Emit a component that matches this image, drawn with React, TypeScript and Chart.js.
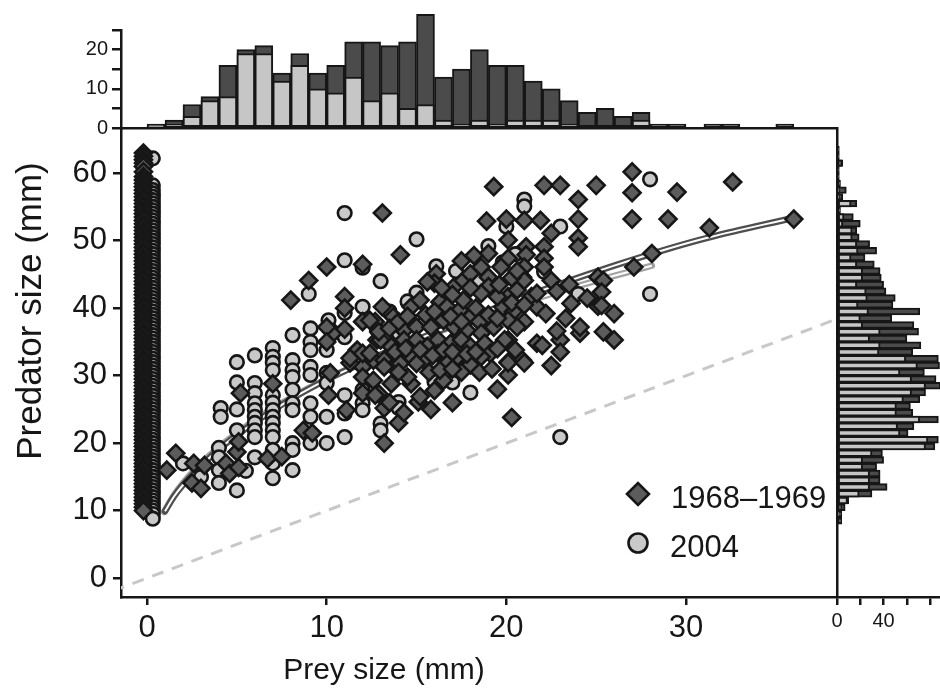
import React, { useEffect, useRef } from 'react';
import { Chart, registerables } from 'chart.js';

Chart.register(...registerables);

const FONT = '"Liberation Sans", Arial, Helvetica, sans-serif';
const INK = '#161616';
const OLD_FILL = '#5c5c5c';
const NEW_FILL = '#c9c9c9';
const HIST_DARK = '#4b4b4b';
const HIST_LIGHT = '#c6c6c6';

// ---------------- data ----------------
const seriesNames = ['1968–1969', '2004'];
const xTitle = 'Prey size (mm)';
const yTitle = 'Predator size (mm)';

const preyTicks = [0, 10, 20, 30];
const predatorTicks = [0, 10, 20, 30, 40, 50, 60];
const preyCountTicks = [0, 5, 10, 15, 20, 25];
const predatorCountTicks = [0, 20, 40, 60, 80];

// predators with no prey in gut (plotted at prey size ~0)
const noPreyOldX = -0.2;
const noPreyOldY = [63, 62.5, 62, 61.5, 61, 60.2, 59.5, 59, 58.5, 58, 57.5, 57, 56.5, 56, 55.5, 55, 54.5, 54, 53.5, 53, 52.5, 52, 51.5, 51, 50.5, 50, 49.5, 49, 48.5, 48, 47.5, 47, 46.5, 46, 45.5, 45, 44.5, 44, 43.5, 43, 42.5, 42, 41.5, 41, 40.5, 40, 39.5, 39, 38.5, 38, 37.5, 37, 36.5, 36, 35.5, 35, 34.5, 34, 33.5, 33, 32.5, 32, 31.5, 31, 30.5, 30, 29.5, 29, 28.5, 28, 27.5, 27, 26.5, 26, 25.5, 25, 24.5, 24, 23.5, 23, 22.5, 22, 21.5, 21, 20.5, 20, 19.5, 19, 18.5, 18, 17.5, 17, 16.5, 16, 15.5, 15, 14.5, 14, 13.5, 13, 12.5, 12, 11.5, 11, 10.5, 10];
const noPreyNewX = 0.32;
const noPreyNewY = [62.2, 58.2, 57.5, 57, 56.5, 56, 55.5, 55, 54.5, 54, 53.5, 53, 52.5, 52, 51.5, 51, 50.5, 50, 49.5, 49, 48.5, 48, 47.5, 47, 46.5, 46, 45.5, 45, 44.5, 44, 43.5, 43, 42.5, 42, 41.5, 41, 40.5, 40, 39.5, 39, 38.5, 38, 37.5, 37, 36.5, 36, 35.5, 35, 34.5, 34, 33.5, 33, 32.5, 32, 31.5, 31, 30.5, 30, 29.5, 29, 28.5, 28, 27.5, 27, 26.5, 26, 25.5, 25, 24.5, 24, 23.5, 23, 22.5, 22, 21.5, 21, 20.5, 20, 19.5, 19, 18.5, 18, 17.5, 17, 16.5, 16, 15.5, 15, 14.5, 14, 13.5, 13, 12.5, 12, 11.5, 11, 10.5, 10, 9.5, 8.8];

// 1968–1969 (prey size, predator size)
const oldPairs: number[][] = [
  [1.1, 16.0], [1.6, 18.5], [2.6, 17.0], [3.2, 16.7], [2.5, 14.1], [3.0, 13.3], [4.4, 17.0], [4.6, 15.5], [5.1, 16.4], [5.0, 18.7], [5.1, 20.2], [6.7, 17.7], [7.5, 18.0],
  [7.0, 28.8], [5.2, 27.4], [8.7, 21.9], [9.2, 21.5], [10.2, 30.4], [10.1, 27.1], [11.1, 24.9], [12.0, 31.3], [12.0, 29.8], [12.0, 27.4], [11.3, 31.9], [12.6, 29.3], [12.9, 27.3],
  [8.0, 41.2], [9.0, 44.1], [10.0, 46.1], [12.0, 46.5], [11.0, 41.7], [11.0, 40.0], [12.0, 38.0], [12.7, 38.0], [10.4, 36.4], [10.0, 37.2], [11.0, 36.9], [10.0, 35.0], [11.7, 33.8], [11.3, 32.6], [12.0, 33.3], [12.6, 32.3], [12.8, 35.3],
  [13.1, 54.1], [19.3, 58.0], [22.1, 58.2], [23.0, 58.2], [25.0, 58.2], [24.0, 56.1], [18.9, 52.9], [20.0, 53.2], [21.0, 53.0], [21.9, 53.0], [24.0, 53.2], [22.5, 51.1], [24.0, 50.4], [24.0, 49.1], [20.1, 50.1], [14.1, 47.9], [19.0, 48.1], [21.1, 49.1], [21.1, 47.9], [22.1, 49.1], [22.1, 47.4], [22.1, 46.1], [20.1, 47.4], [19.7, 46.1], [16.1, 45.1], [21.0, 46.1], [20.9, 44.6], [22.5, 44.1], [25.1, 44.6], [25.4, 44.1], [23.6, 40.7], [25.1, 40.3], [26.0, 39.2], [21.4, 41.7], [21.7, 40.2], [22.2, 39.2], [21.0, 38.0], [21.7, 34.8], [23.0, 35.3], [24.1, 36.3], [24.1, 37.2], [25.4, 36.5], [26.0, 35.3], [20.1, 32.0], [20.9, 32.3], [20.1, 35.3], [19.1, 33.8],
  [27.0, 60.2], [27.0, 57.1], [29.5, 57.2], [32.6, 58.7], [27.0, 53.2], [29.0, 53.2], [31.3, 51.9], [36.0, 53.2], [28.1, 48.1], [27.1, 46.1], [25.3, 42.4], [25.3, 40.4],
  [13.1, 40.2], [12.4, 38.2], [13.7, 38.7], [14.7, 40.2], [15.2, 41.2], [16.3, 40.9], [16.7, 40.2], [17.4, 39.7], [18.0, 38.7], [18.5, 38.0], [19.8, 40.2], [20.4, 39.5],
  [14.3, 36.7], [15.0, 37.2], [15.8, 37.2], [16.5, 38.2], [17.1, 37.2], [17.8, 36.7], [18.6, 36.3], [19.3, 37.2], [20.1, 38.2], [20.6, 37.2],
  [13.0, 35.3], [13.6, 34.3], [14.3, 35.3], [15.0, 35.3], [15.6, 34.3], [16.2, 35.3], [16.9, 34.8], [17.5, 35.3], [18.0, 34.3], [18.8, 34.8], [19.1, 33.3], [19.9, 35.3],
  [12.4, 33.3], [13.2, 32.3], [13.9, 31.8], [14.7, 32.8], [15.4, 32.3], [16.2, 33.3], [16.7, 31.8], [17.3, 32.8], [18.0, 31.8], [18.6, 32.8],
  [16.0, 43.7], [15.6, 43.9], [17.1, 43.2], [17.6, 44.1], [18.0, 45.1], [18.6, 46.1], [19.0, 44.6], [19.0, 43.2], [20.1, 41.7], [20.6, 42.7], [21.0, 44.1], [21.7, 42.2], [17.6, 41.2], [18.6, 42.2], [19.5, 41.7],
  [13.2, 20.0], [17.0, 26.0], [19.5, 28.0], [20.1, 30.1], [20.3, 23.8], [15.1, 26.1], [14.0, 23.0], [13.2, 25.2], [12.7, 27.1], [16.5, 29.3], [18.0, 31.6], [20.1, 31.9], [21.0, 31.9], [13.2, 31.3], [14.1, 31.8], [15.0, 31.8], [14.7, 28.8], [15.2, 26.9], [13.6, 28.8],
  [22.0, 34.5], [22.8, 36.6], [23.3, 38.5], [16.0, 27.8], [17.5, 30.5], [14.5, 29.8],
  [12.9, 36.5], [13.5, 37.0], [14.0, 38.0], [14.5, 38.8], [15.5, 39.0], [16.0, 39.5], [16.9, 38.8], [17.5, 38.0], [18.3, 40.0], [19.0, 39.0], [19.5, 38.5], [20.3, 40.8], [21.0, 40.5],
  [13.8, 33.5], [14.4, 34.0], [15.2, 33.8], [15.9, 33.0], [16.5, 33.8], [17.0, 33.5], [17.8, 33.2], [18.3, 33.5], [19.5, 34.0], [20.5, 33.8],
  [14.0, 30.5], [15.7, 30.5], [16.3, 30.8], [17.0, 31.0], [18.5, 30.5], [19.2, 31.0], [13.5, 26.0], [14.3, 24.5], [15.8, 25.0],
  [16.4, 43.0], [17.0, 42.0], [18.0, 43.0], [19.6, 43.5], [20.3, 44.5], [17.5, 47.0], [18.2, 47.8], [20.6, 45.5], [22.8, 42.5], [23.5, 43.5], [24.5, 41.5], [23.0, 33.5], [22.5, 31.5]
];

// 2004 (prey size, predator size)
const newPairs: number[][] = [
  [11.0, 54.1], [11.0, 47.1], [12.0, 46.0], [9.0, 42.1], [11.0, 39.3], [12.0, 40.2], [10.1, 38.2], [9.1, 37.0], [11.0, 35.7], [8.1, 36.0], [9.1, 35.0], [10.0, 33.8], [9.1, 33.8], [7.0, 34.1], [6.0, 33.0], [5.0, 32.0], [7.0, 32.8], [8.1, 32.3],
  [7.0, 31.9], [7.0, 30.8], [7.0, 27.1], [7.0, 26.0], [7.0, 24.9], [7.0, 23.9], [7.0, 23.0], [7.0, 21.9], [7.0, 20.9], [7.0, 19.0], [7.0, 17.0], [7.0, 14.8],
  [8.1, 30.8], [8.1, 29.8], [8.1, 27.9], [8.1, 25.9], [8.1, 24.9], [8.1, 20.0], [8.1, 19.0], [8.1, 16.0],
  [9.1, 31.3], [9.1, 30.1], [9.1, 25.9], [9.1, 23.9], [9.1, 20.0],
  [10.0, 30.4], [10.0, 28.9], [10.0, 23.9], [10.0, 20.0],
  [11.0, 27.1], [11.0, 24.4], [11.0, 20.9],
  [12.0, 27.9], [12.0, 25.9], [12.0, 24.9],
  [6.0, 28.9], [6.0, 27.4], [6.0, 25.9], [6.0, 24.9], [6.0, 23.9], [6.0, 23.0], [6.0, 21.9], [6.0, 20.9], [6.0, 17.9],
  [4.1, 25.2], [4.1, 23.9], [5.0, 25.0], [5.0, 29.0], [5.0, 21.9], [5.0, 13.0],
  [4.0, 19.3], [4.0, 17.9], [4.0, 16.0], [4.0, 14.1], [2.0, 17.0], [3.0, 15.0], [5.5, 15.9],
  [13.0, 22.9], [13.0, 21.9], [14.0, 26.1], [14.0, 25.2], [16.0, 31.1], [16.0, 29.1],
  [23.0, 20.9],
  [15.0, 50.2], [19.0, 49.2], [16.1, 46.2], [15.0, 42.3], [24.0, 42.1], [21.0, 56.1], [21.0, 55.1], [20.0, 52.1], [23.0, 52.1], [22.1, 45.4], [14.0, 36.3], [16.1, 31.3],
  [28.0, 59.1], [28.0, 42.1],
  [12.8, 36.8], [13.5, 39.5],
  [14.5, 41.0], [17.2, 45.5], [18.5, 44.0], [19.8, 46.8], [20.5, 48.0], [13.0, 44.0], [15.5, 38.2], [17.0, 29.0], [18.0, 27.5]
];

// fitted curves
const fitOldX = [1.0, 1.5, 2, 3, 4, 5, 6, 8, 10, 12, 14, 16, 18, 20, 23, 26, 29, 31.3, 36];
const fitOldY = [9.9, 12.1, 13.8, 16.6, 19.1, 21.2, 23.1, 26.5, 29.4, 31.9, 34.2, 36.4, 38.5, 40.7, 43.6, 46.3, 48.8, 50.5, 53.4];
const fitNewX = [0.95, 1.5, 2, 3, 4, 5, 6, 8, 10, 12, 14, 16, 18, 20, 22, 24, 26, 28.1];
const fitNewY = [9.8, 12.3, 14.1, 17.0, 19.4, 21.5, 23.4, 26.7, 29.5, 32.0, 34.2, 36.3, 38.2, 40.0, 41.7, 43.3, 44.8, 46.3];
// 1:1 reference line
const unityX = [-3, 40];
const unityY = [-3, 40];

// prey size histogram (1 mm bins)
const preyBinCentres = [0.5, 1.5, 2.5, 3.5, 4.5, 5.5, 6.5, 7.5, 8.5, 9.5, 10.5, 11.5, 12.5, 13.5, 14.5, 15.5, 16.5, 17.5, 18.5, 19.5, 20.5, 21.5, 22.5, 23.5, 24.5, 25.5, 26.5, 27.5, 28.5, 29.5, 30.5, 31.5, 32.5, 33.5, 34.5, 35.5];
const preyCountOld = [1, 2, 6, 8, 16, 20, 21, 14, 19, 14, 16, 22, 22, 21, 22, 29, 13, 15, 20, 16, 16, 12, 10, 7, 4, 5, 3, 4, 1, 1, 0, 1, 1, 0, 0, 1];
const preyCountNew = [0.5, 1, 3, 7, 8, 19, 19, 12, 16, 10, 9, 13, 7, 9, 5, 6, 2, 1, 2, 1, 2, 2, 2, 1, 0, 0, 0, 2, 0, 0, 0, 0, 0, 0, 0, 0];

// predator size histogram (1 mm bins)
const predBinCentres = [8.5, 9.5, 10.5, 11.5, 12.5, 13.5, 14.5, 15.5, 16.5, 17.5, 18.5, 19.5, 20.5, 21.5, 22.5, 23.5, 24.5, 25.5, 26.5, 27.5, 28.5, 29.5, 30.5, 31.5, 32.5, 33.5, 34.5, 35.5, 36.5, 37.5, 38.5, 39.5, 40.5, 41.5, 42.5, 43.5, 44.5, 45.5, 46.5, 47.5, 48.5, 49.5, 50.5, 51.5, 52.5, 53.5, 54.5, 55.5, 56.5, 57.5, 58.5, 59.5, 60.5, 61.5, 62.5, 63.5];
const predCountOld = [4, 4, 7, 10, 30, 43, 37, 37, 34, 40, 39, 84, 87, 61, 66, 87, 65, 63, 71, 76, 89, 85, 75, 88, 87, 65, 72, 60, 70, 66, 47, 71, 48, 50, 42, 40, 38, 37, 32, 24, 34, 28, 19, 17, 20, 14, 3, 17, 5, 8, 3, 2, 2, 5, 2, 2];
const predCountNew = [0, 2, 4, 9, 19, 28, 28, 28, 22, 22, 30, 76, 78, 54, 52, 71, 51, 51, 57, 64, 76, 64, 54, 69, 59, 36, 37, 28, 37, 22, 20, 27, 18, 26, 25, 17, 22, 22, 17, 12, 18, 17, 13, 13, 5, 6, 0, 12, 2, 2, 0, 0, 0, 4, 0, 0];

// ---------------- layout (pixels) ----------------
const W = 940;
const H = 696;
const PLOT_LEFT = 121;
const PLOT_RIGHT = 836;
const PLOT_TOP = 128;
const PLOT_BOTTOM = 597;
const TOPHIST_TOP = 30;

const X_MIN = -1.45;
const X_MAX = 38.35;
const Y_MIN = -2.8;
const Y_MAX = 66.7;

const toXY = (xs: number[], ys: number[]) => xs.map((x, i) => ({ x, y: ys[i] }));
const pairs = (p: number[][]) => p.map(([x, y]) => ({ x, y }));

const tickGrid = { display: true, drawOnChartArea: false, drawTicks: true, tickLength: 8, color: INK, lineWidth: 2.5 };
const axisBorder = { display: true, color: INK, width: 2.5 };

const annotatePlugin = {
  id: 'annotate',
  afterDraw(chart: any) {
    const ctx = chart.ctx;
    ctx.save();
    ctx.fillStyle = INK;
    // axis titles
    ctx.textAlign = 'center';
    ctx.textBaseline = 'middle';
    ctx.font = `30px ${FONT}`;
    ctx.fillText(xTitle, 384, 671);
    ctx.save();
    ctx.translate(31, 311);
    ctx.rotate(-Math.PI / 2);
    ctx.font = `35px ${FONT}`;
    ctx.fillText(yTitle, 0, 0);
    ctx.restore();
    // legend
    const lx = 638;
    const ly1 = 494;
    const ly2 = 543;
    ctx.lineWidth = 2.6;
    ctx.strokeStyle = INK;
    ctx.beginPath();
    ctx.moveTo(lx - 11, ly1);
    ctx.lineTo(lx, ly1 - 11);
    ctx.lineTo(lx + 11, ly1);
    ctx.lineTo(lx, ly1 + 11);
    ctx.closePath();
    ctx.fillStyle = OLD_FILL;
    ctx.fill();
    ctx.stroke();
    ctx.beginPath();
    ctx.arc(lx, ly2, 9.5, 0, Math.PI * 2);
    ctx.fillStyle = NEW_FILL;
    ctx.fill();
    ctx.stroke();
    ctx.fillStyle = INK;
    ctx.font = `31px ${FONT}`;
    ctx.textAlign = 'left';
    ctx.textBaseline = 'alphabetic';
    ctx.fillText(seriesNames[0], 671, 508);
    ctx.fillText(seriesNames[1], 670, 557);
    ctx.restore();
  },
};

function mainConfig(): any {
  const oldPts = [...noPreyOldY.map((y) => ({ x: noPreyOldX, y })), ...pairs(oldPairs)];
  const newPts = [...noPreyNewY.map((y) => ({ x: noPreyNewX, y })), ...pairs(newPairs)];
  const lineBase = { showLine: true, pointRadius: 0, cubicInterpolationMode: 'monotone', fill: false };
  return {
    type: 'scatter',
    data: {
      datasets: [
        { label: seriesNames[0], data: oldPts, pointStyle: 'rectRot', pointRadius: 8.5, pointBackgroundColor: OLD_FILL, pointBorderColor: INK, pointBorderWidth: 2.6, order: 1 },
        { label: seriesNames[1], data: newPts, pointStyle: 'circle', pointRadius: 6.8, pointBackgroundColor: NEW_FILL, pointBorderColor: INK, pointBorderWidth: 2.6, order: 2 },
        { ...lineBase, data: toXY(fitOldX, fitOldY), borderColor: '#ffffff', borderWidth: 2, borderCapStyle: 'butt', order: 3 },
        { ...lineBase, data: toXY(fitOldX, fitOldY), borderColor: '#4e4e4e', borderWidth: 6.5, borderCapStyle: 'round', order: 4 },
        { ...lineBase, data: toXY(fitNewX, fitNewY), borderColor: '#ffffff', borderWidth: 2, borderCapStyle: 'butt', order: 5 },
        { ...lineBase, data: toXY(fitNewX, fitNewY), borderColor: '#a2a2a2', borderWidth: 6.5, borderCapStyle: 'round', order: 6 },
        { ...lineBase, data: toXY(unityX, unityY), cubicInterpolationMode: 'default', borderColor: '#c8c8c8', borderWidth: 3, borderDash: [12, 9], order: 7 },
      ],
    },
    options: {
      responsive: false,
      animation: false,
      events: [],
      layout: { padding: { top: PLOT_TOP, right: W - PLOT_RIGHT, bottom: 0, left: 0 } },
      scales: {
        x: {
          type: 'linear',
          min: X_MIN,
          max: X_MAX,
          afterFit: (s: any) => { s.height = H - PLOT_BOTTOM; },
          afterBuildTicks: (s: any) => { s.ticks = preyTicks.map((value) => ({ value })); },
          ticks: { color: INK, font: { family: FONT, size: 31 }, padding: 5, maxRotation: 0, autoSkip: false },
          grid: tickGrid,
          border: axisBorder,
        },
        y: {
          type: 'linear',
          min: Y_MIN,
          max: Y_MAX,
          afterFit: (s: any) => { s.width = PLOT_LEFT; },
          afterBuildTicks: (s: any) => { s.ticks = predatorTicks.map((value) => ({ value })); },
          ticks: { color: INK, font: { family: FONT, size: 31 }, padding: 6, autoSkip: false },
          grid: tickGrid,
          border: axisBorder,
        },
      },
      plugins: { legend: { display: false }, tooltip: { enabled: false } },
    },
    plugins: [annotatePlugin],
  };
}

function barSet(xs: number[], vals: number[], color: string, order: number, horizontal: boolean) {
  const data = xs
    .map((c, i) => (horizontal ? { x: vals[i], y: c } : { x: c, y: vals[i] }))
    .filter((_, i) => vals[i] > 0);
  return {
    data,
    backgroundColor: color,
    borderColor: INK,
    borderWidth: 2,
    borderSkipped: false,
    grouped: false,
    barPercentage: 1,
    categoryPercentage: 1,
    clip: false,
    order,
  };
}

function topHistConfig(): any {
  return {
    type: 'bar',
    data: {
      datasets: [
        barSet(preyBinCentres, preyCountNew, HIST_LIGHT, 1, false),
        barSet(preyBinCentres, preyCountOld, HIST_DARK, 2, false),
      ],
    },
    options: {
      responsive: false,
      animation: false,
      events: [],
      layout: { padding: { top: TOPHIST_TOP, right: W - PLOT_RIGHT, bottom: H - PLOT_TOP, left: 0 } },
      scales: {
        x: {
          type: 'linear',
          min: X_MIN,
          max: X_MAX,
          afterFit: (s: any) => { s.height = 0; },
          afterBuildTicks: (s: any) => { s.ticks = []; },
          ticks: { display: false },
          grid: { display: false },
          border: axisBorder,
        },
        y: {
          type: 'linear',
          min: 0,
          max: 25,
          afterFit: (s: any) => { s.width = PLOT_LEFT; },
          afterBuildTicks: (s: any) => { s.ticks = preyCountTicks.map((value) => ({ value })); },
          ticks: {
            color: INK,
            font: { family: FONT, size: 20 },
            padding: 4,
            autoSkip: false,
            callback: (v: number) => (v % 10 === 0 ? String(v) : ''),
          },
          grid: { ...tickGrid, tickLength: 9 },
          border: axisBorder,
        },
      },
      plugins: { legend: { display: false }, tooltip: { enabled: false } },
    },
  };
}

function rightHistConfig(): any {
  return {
    type: 'bar',
    data: {
      datasets: [
        barSet(predBinCentres, predCountNew, HIST_LIGHT, 1, true),
        barSet(predBinCentres, predCountOld, HIST_DARK, 2, true),
      ],
    },
    options: {
      indexAxis: 'y',
      responsive: false,
      animation: false,
      events: [],
      layout: { padding: { top: PLOT_TOP, right: 0, bottom: 0, left: 0 } },
      scales: {
        x: {
          type: 'linear',
          position: 'bottom',
          min: 0,
          max: 88.4,
          afterFit: (s: any) => { s.height = H - PLOT_BOTTOM; },
          afterBuildTicks: (s: any) => { s.ticks = predatorCountTicks.map((value) => ({ value })); },
          ticks: {
            color: INK,
            font: { family: FONT, size: 20 },
            padding: 4,
            maxRotation: 0,
            autoSkip: false,
            callback: (v: number) => (v === 0 || v === 40 ? String(v) : ''),
          },
          grid: tickGrid,
          border: axisBorder,
        },
        y: {
          type: 'linear',
          min: Y_MIN,
          max: Y_MAX,
          afterFit: (s: any) => { s.width = PLOT_RIGHT + 1; },
          afterBuildTicks: (s: any) => { s.ticks = []; },
          ticks: { display: false },
          grid: { display: false },
          border: axisBorder,
        },
      },
      plugins: { legend: { display: false }, tooltip: { enabled: false } },
    },
  };
}

const canvasStyle: React.CSSProperties = { position: 'absolute', left: 0, top: 0, width: W, height: H };

export default function App() {
  const mainRef = useRef<HTMLCanvasElement>(null);
  const topRef = useRef<HTMLCanvasElement>(null);
  const rightRef = useRef<HTMLCanvasElement>(null);

  useEffect(() => {
    Chart.defaults.font.family = FONT;
    const charts: Chart[] = [];
    if (mainRef.current) charts.push(new Chart(mainRef.current, mainConfig()));
    if (topRef.current) charts.push(new Chart(topRef.current, topHistConfig()));
    if (rightRef.current) charts.push(new Chart(rightRef.current, rightHistConfig()));
    return () => charts.forEach((c) => c.destroy());
  }, []);

  return (
    <div style={{ position: 'fixed', left: 0, top: 0, width: W, height: H, background: '#ffffff', overflow: 'hidden' }}>
      <canvas ref={mainRef} width={W} height={H} style={canvasStyle} />
      <canvas ref={topRef} width={W} height={H} style={canvasStyle} />
      <canvas ref={rightRef} width={W} height={H} style={canvasStyle} />
    </div>
  );
}
